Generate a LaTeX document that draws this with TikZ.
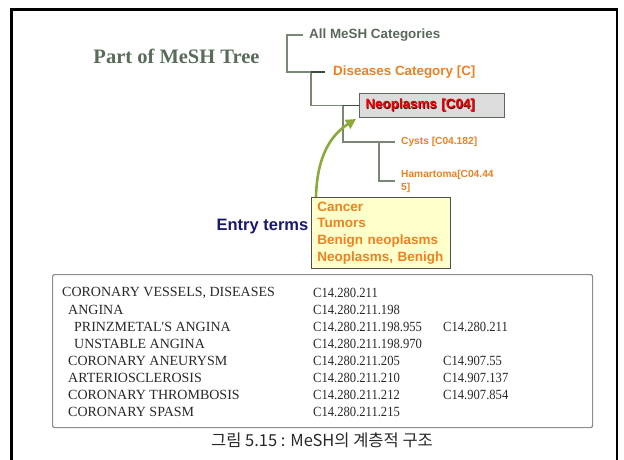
\documentclass[tikz,border=0pt]{standalone}
\usepackage{fontspec}
\setmainfont{Liberation Serif}
\setsansfont{Liberation Sans}
\newfontfamily\krfont{Noto Sans CJK KR}
\newfontfamily\numfont[FakeStretch=0.9]{Liberation Serif}
\usetikzlibrary{arrows.meta}
\definecolor{titlegreen}{RGB}{88,108,88}
\definecolor{allgray}{RGB}{90,104,90}
\definecolor{mesorange}{RGB}{240,128,32}
\definecolor{treeline}{RGB}{120,136,116}
\definecolor{treedark}{RGB}{60,76,60}
\definecolor{neofill}{RGB}{220,220,220}
\definecolor{neoborder}{RGB}{90,104,90}
\definecolor{neored}{RGB}{240,0,0}
\definecolor{neoshadow}{RGB}{80,20,20}
\definecolor{entryfill}{RGB}{255,255,204}
\definecolor{entryborder}{RGB}{80,80,80}
\definecolor{navyt}{RGB}{24,24,110}
\definecolor{arrowgreen}{RGB}{140,170,58}
\definecolor{tblborder}{RGB}{140,140,140}
\definecolor{tbltext}{RGB}{40,40,40}
\begin{document}
\begin{tikzpicture}[x=1pt,y=-1pt,
  tree/.style={draw=treeline, line width=1.1pt},
  tick/.style={draw=treedark, line width=1.6pt},
  lbl/.style={font=\sffamily\bfseries\fontsize{13.4}{15}\selectfont, inner sep=0pt, anchor=west},
  smalllbl/.style={font=\sffamily\bfseries\fontsize{10.2}{13}\selectfont, inner sep=0pt, anchor=west, text=mesorange, align=left},
  rowtext/.style={font=\fontsize{14}{14}\selectfont, inner sep=0pt, anchor=west, text=tbltext},
  rownum/.style={font=\numfont\fontsize{14}{14}\selectfont, inner sep=0pt, anchor=west, text=tbltext}]
\useasboundingbox (0,0) rectangle (624,460);
% outer frame
\draw[line width=2.6pt, black] (11.5,461) -- (11.5,9.5) -- (617,9.5) -- (617,461);

% title
\node (title) [font=\bfseries\fontsize{20.5}{20.5}\selectfont, text=titlegreen, inner sep=0pt] at (176.5,56) {Part of MeSH Tree};

% tree nodes
\node (all) [lbl, text=allgray] at (309,35) {All MeSH Categories};
\node (dis) [lbl, text=mesorange] at (333,72) {Diseases Category [C]};
\node (neo) [draw=neoborder, fill=neofill, line width=1pt, anchor=north west,
  minimum height=24pt, text width=133pt, inner xsep=6pt, inner ysep=0pt, align=left,
  font=\sffamily\bfseries\fontsize{13.4}{15}\selectfont] at (359,93)
  {\rlap{\hspace{0.7pt}\raisebox{-0.7pt}{\color{neoshadow}Neoplasms [C04]}}\color{neored}Neoplasms [C04]};
\node (cysts) [smalllbl] at (401,142) {Cysts [C04.182]};
\node (ham) [smalllbl] at (401,181) {Hamartoma[C04.44\\5]};

% tree connectors
\draw[tree] ([xshift=-6pt]all.west) -- ++(-16,0) |- ([xshift=-8pt]dis.west);
\draw[tree] ([xshift=-22pt]dis.west) |- (neo.west);
\draw[tree] ([xshift=-16pt]neo.west) |- ([xshift=-6pt]cysts.west);
\draw[tree] ([xshift=-22pt]cysts.west) |- ([xshift=-6pt]ham.west);
\draw[tick] ([xshift=-22pt]dis.west) -- ([xshift=-8pt]dis.west);
\draw[tick] ([xshift=-16pt]neo.west) -- (neo.west);

% entry terms
\node (entry) [draw=entryborder, fill=entryfill, line width=0.9pt, anchor=north west,
  minimum height=71pt, text width=127pt, inner xsep=6pt, inner ysep=3pt, align=left,
  font=\sffamily\bfseries\fontsize{13.5}{16.8}\selectfont, text=mesorange] at (311,197)
  {Cancer\\Tumors\\Benign neoplasms\\Neoplasms, Benigh};
\node (et) [font=\sffamily\bfseries\fontsize{16.5}{18}\selectfont, text=navyt, inner sep=0pt, anchor=east] at (308.5,227) {Entry terms};
\draw[arrowgreen, line width=2.6pt, -{Triangle[length=10pt,width=10pt]}]
  ([xshift=5pt]entry.north west) .. controls +(1,-45) and +(-22,14) .. ([xshift=-3pt,yshift=-1pt]neo.south west);

% table
\node (tbl) [draw=tblborder, rounded corners=2pt, line width=1.2pt, minimum width=540pt, minimum height=153pt, inner sep=0pt, anchor=north west] at (52,274) {};
\node (t1) [rowtext] at (62,293) {CORONARY VESSELS, DISEASES};
\node (t2) [rowtext] at (68,310) {ANGINA};
\node (t3) [rowtext] at (74,327) {PRINZMETAL\textquotesingle S ANGINA};
\node (t4) [rowtext] at (74,344) {UNSTABLE ANGINA};
\node (t5) [rowtext] at (68,361) {CORONARY ANEURYSM};
\node (t6) [rowtext] at (68,378) {ARTERIOSCLEROSIS};
\node (t7) [rowtext] at (68,395) {CORONARY THROMBOSIS};
\node (t8) [rowtext] at (68,412) {CORONARY SPASM};
\node (c1) [rownum] at (313,293) {C14.280.211};
\node (c2) [rownum] at (313,310) {C14.280.211.198};
\node (c3) [rownum] at (313,327) {C14.280.211.198.955};
\node (c4) [rownum] at (313,344) {C14.280.211.198.970};
\node (c5) [rownum] at (313,361) {C14.280.211.205};
\node (c6) [rownum] at (313,378) {C14.280.211.210};
\node (c7) [rownum] at (313,395) {C14.280.211.212};
\node (c8) [rownum] at (313,412) {C14.280.211.215};
\node (d3) [rownum] at (443,327) {C14.280.211};
\node (d5) [rownum] at (443,361) {C14.907.55};
\node (d6) [rownum] at (443,378) {C14.907.137};
\node (d7) [rownum] at (443,395) {C14.907.854};

% caption
\node (cap) [font=\krfont\fontsize{16.5}{16.5}\selectfont, text=tbltext, inner sep=0pt] at (322,440) {그림 5.15 : MeSH의 계층적 구조};
\end{tikzpicture}
\end{document}
